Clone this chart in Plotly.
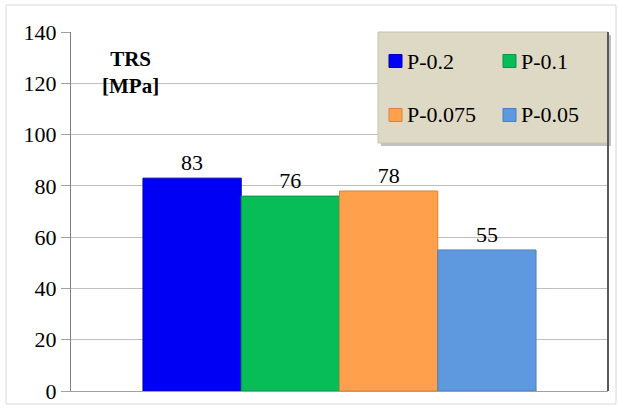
import plotly.graph_objects as go

# Transverse rupture strength by sample
series_names = ["P-0.2", "P-0.1", "P-0.075", "P-0.05"]
trs_values = [83, 76, 78, 55]
bar_colors = ["#0000F5", "#07BD58", "#FFA04D", "#5E99DF"]
edge_colors = ["#0000B0", "#05954A", "#D9843A", "#4A7FBF"]
y_ticks = [0, 20, 40, 60, 80, 100, 120, 140]

W, H = 619, 409
L, R, T, B = 71, 11, 32, 18
PW, PH = W - L - R, H - T - B

def px(x):
    return (x - L) / PW

def py(y):
    return (H - B - y) / PH

FONT = "Liberation Serif, Liberation Sans, Arial, sans-serif"

fig = go.Figure()
for name, val, col, edge in zip(series_names, trs_values, bar_colors, edge_colors):
    fig.add_trace(go.Bar(
        x=["TRS"], y=[val], name=name,
        marker=dict(color=col, line=dict(color=edge, width=1)),
        text=[str(val)], textposition="outside", cliponaxis=False,
        textfont=dict(family=FONT, size=22, color="#000000"),
        showlegend=False,
    ))

shapes = []
annotations = []

# outer chart frame
shapes.append(dict(type="rect", xref="paper", yref="paper",
                   x0=px(6), x1=px(616), y0=py(404), y1=py(5),
                   line=dict(color="#D9D9D9", width=1), layer="below"))

# legend box with drop shadow
lx0, lx1, ly0, ly1 = 378, 608, 32, 143
shapes.append(dict(type="rect", xref="paper", yref="paper",
                   x0=px(lx0 + 3), x1=px(lx1 + 3), y0=py(ly1 + 3), y1=py(ly0 + 3),
                   fillcolor="rgba(120,120,120,0.45)", line=dict(width=0)))
shapes.append(dict(type="rect", xref="paper", yref="paper",
                   x0=px(lx0), x1=px(lx1), y0=py(ly1), y1=py(ly0),
                   fillcolor="#DDD9C4", line=dict(color="#C8C4AE", width=1)))

# legend entries: 2 x 2 grid
cols_x = [389, 503]
rows_y = [61, 115]
for i, (name, col, edge) in enumerate(zip(series_names, bar_colors, edge_colors)):
    mx = cols_x[i % 2]
    my = rows_y[i // 2]
    shapes.append(dict(type="rect", xref="paper", yref="paper",
                       x0=px(mx), x1=px(mx + 13), y0=py(my + 6.5), y1=py(my - 6.5),
                       fillcolor=col, line=dict(color=edge, width=1)))
    annotations.append(dict(xref="paper", yref="paper", x=px(mx + 16), y=py(my),
                            text=name, showarrow=False, xanchor="left", yanchor="middle",
                            font=dict(family=FONT, size=22, color="#000000")))

# axis title inside plot
annotations.append(dict(xref="paper", yref="paper", x=px(130), y=py(72),
                        text="<b>TRS<br>[MPa]</b>", showarrow=False,
                        xanchor="center", yanchor="middle", align="center",
                        font=dict(family=FONT, size=21, color="#000000")))

fig.update_layout(
    template="none",
    width=W, height=H,
    margin=dict(l=L, r=R, t=T, b=B, autoexpand=False),
    paper_bgcolor="white", plot_bgcolor="white",
    barmode="group", bargap=0.268, bargroupgap=0,
    shapes=shapes, annotations=annotations,
    xaxis=dict(showticklabels=False, showgrid=False, zeroline=False,
               showline=True, linecolor="#A0A0A0", linewidth=1, mirror=False,
               ticks="", automargin=False),
    yaxis=dict(range=[0, 140], tickvals=y_ticks, showgrid=True,
               gridcolor="#BFBFBF", gridwidth=1, zeroline=False,
               showline=True, linecolor="#808080", linewidth=1,
               ticks="outside", ticklen=9, tickcolor="#A0A0A0", automargin=False,
               tickfont=dict(family=FONT, size=22, color="#000000")),
)
# right frame line
fig.add_shape(type="line", xref="paper", yref="paper", x0=1, x1=1, y0=0, y1=1,
              line=dict(color="#595959", width=2))

fig.write_html("out.html")
